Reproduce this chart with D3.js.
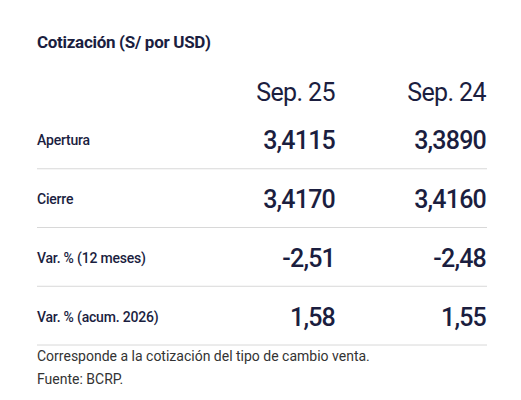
<!DOCTYPE html><html><head><meta charset="utf-8"><script src="https://cdn.jsdelivr.net/npm/d3@7"></script>
<style>body{margin:0;background:#fff}</style></head><body><script>
const title="Cotización (S/ por USD)";
const columns=["Sep. 25","Sep. 24"];
const rowLabels=["Apertura","Cierre","Var. % (12 meses)","Var. % (acum. 2026)"];
const col1=["3,4115","3,4170","-2,51","1,58"];
const col2=["3,3890","3,4160","-2,48","1,55"];
const notes=["Corresponde a la cotización del tipo de cambio venta.","Fuente: BCRP."];
const W=521,H=400,navy="#1b1e3f",font="Roboto, sans-serif";
const svg=d3.select("body").append("svg").attr("width",W).attr("height",H).style("font-family",font);
svg.append("text").attr("x",37).attr("y",48).attr("font-size",17).attr("font-weight",700).attr("letter-spacing",-0.3).attr("fill",navy).text(title);
const colX=[335,486];
columns.forEach((c,i)=>svg.append("text").attr("x",colX[i]).attr("y",101).attr("text-anchor","end").attr("font-size",25).attr("letter-spacing",-0.6).attr("fill",navy).text(c));
const y=d3.scaleBand().domain(rowLabels).range([110,345]);
rowLabels.forEach((r,i)=>{
 const base=y(r)+y.bandwidth()/2+7;
 svg.append("text").attr("x",37).attr("y",base-1).attr("font-size",14).attr("font-weight",500).attr("letter-spacing",-0.2).attr("fill",navy).text(r);
 [col1[i],col2[i]].forEach((v,j)=>svg.append("text").attr("x",colX[j]).attr("y",base+3).attr("text-anchor","end").attr("font-size",25).attr("font-weight",500).attr("letter-spacing",-0.8).attr("fill",navy).text(v));
 svg.append("line").attr("x1",37).attr("x2",487).attr("y1",y(r)+y.bandwidth()).attr("y2",y(r)+y.bandwidth()).attr("stroke","#d8d8d8").attr("stroke-width",1);
});
notes.forEach((n,i)=>svg.append("text").attr("x",37).attr("y",361+i*23).attr("font-size",14).attr("fill","#333").text(n));
</script></body></html>
